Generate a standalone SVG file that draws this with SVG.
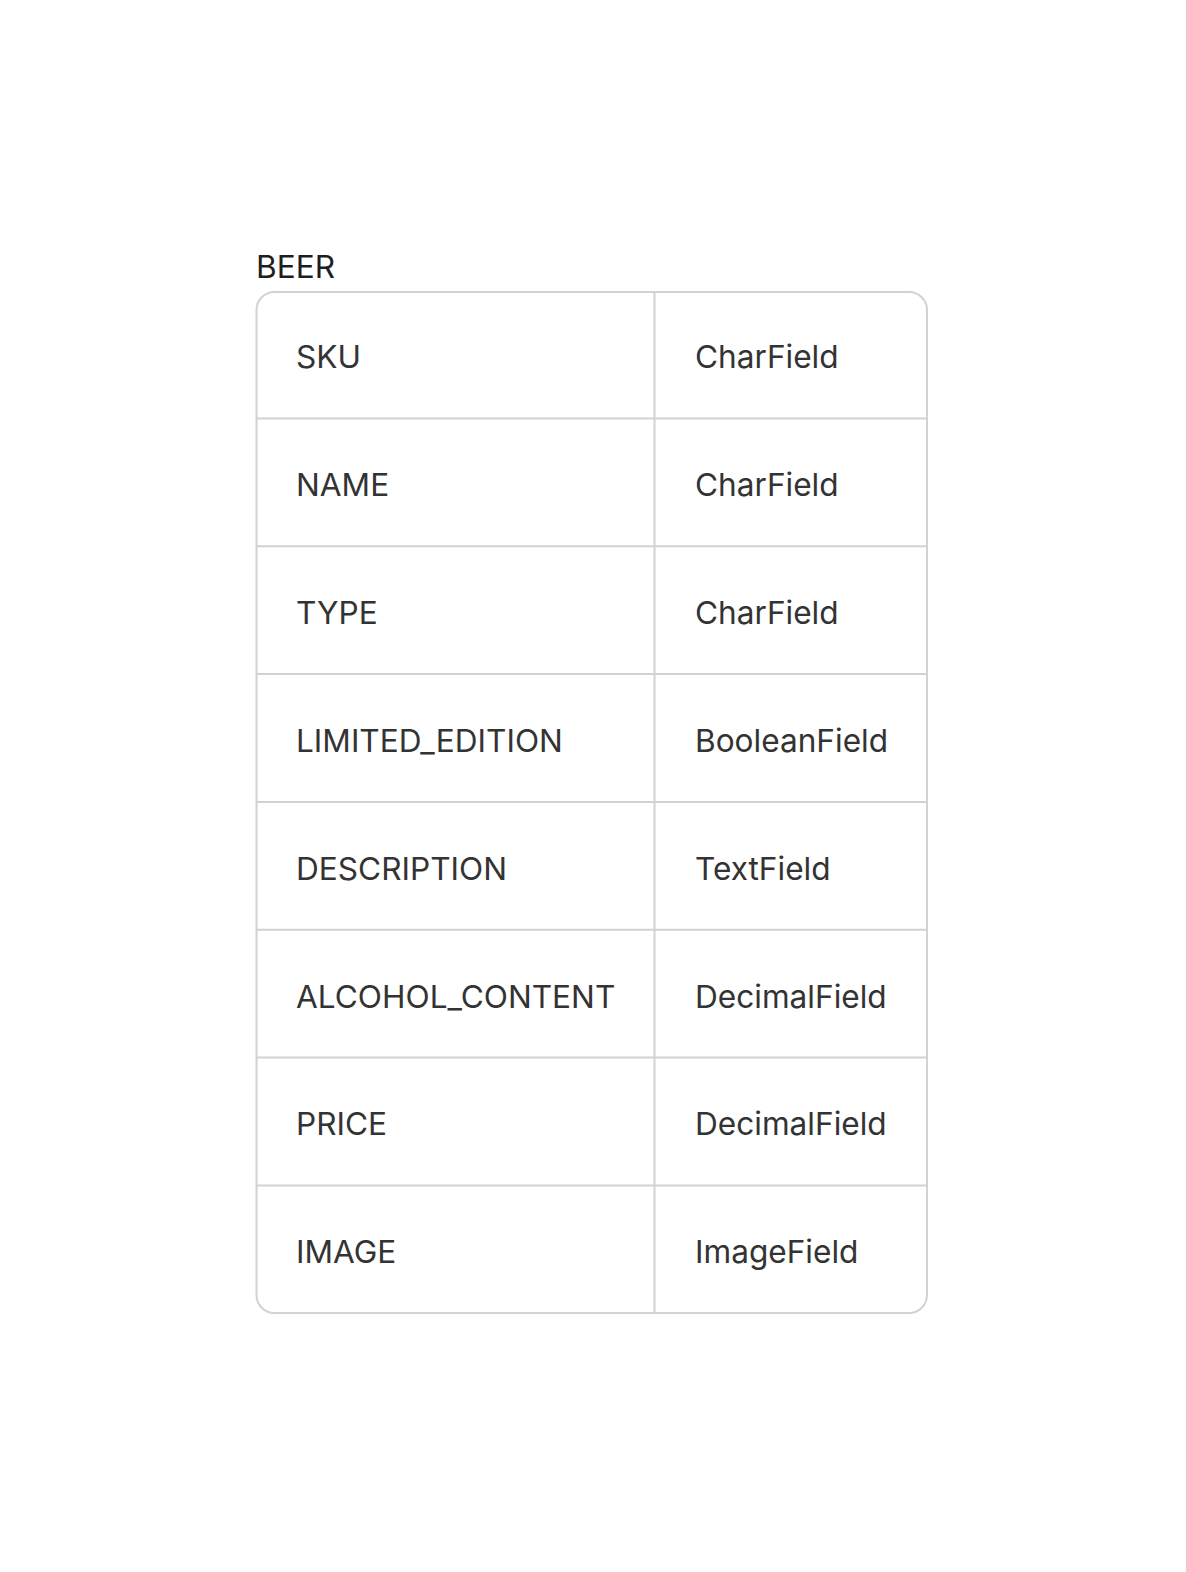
<svg xmlns="http://www.w3.org/2000/svg" width="1186" height="1572" viewBox="0 0 1186 1572">
<style>
.t{font-family:Inter,"Liberation Sans",sans-serif;font-size:31.6px;fill:#333333}
.title{font-family:Inter,"Liberation Sans",sans-serif;font-size:31.6px;fill:#1e1e1e}
.ln{stroke:#d2d2d2;stroke-width:2;fill:none}
</style>
<rect width="1186" height="1572" fill="#ffffff"/>
<text id="title" class="title" x="256" y="278">BEER</text>
<g id="table">
<rect class="ln" x="256.5" y="292" width="670.5" height="1021" rx="18" ry="18" fill="#ffffff"/>
<line class="ln" x1="654.5" y1="292" x2="654.5" y2="1313"/>
<line class="ln" x1="256.5" y1="418.5" x2="927" y2="418.5"/>
<line class="ln" x1="256.5" y1="546.3" x2="927" y2="546.3"/>
<line class="ln" x1="256.5" y1="674.1" x2="927" y2="674.1"/>
<line class="ln" x1="256.5" y1="801.9" x2="927" y2="801.9"/>
<line class="ln" x1="256.5" y1="929.7" x2="927" y2="929.7"/>
<line class="ln" x1="256.5" y1="1057.5" x2="927" y2="1057.5"/>
<line class="ln" x1="256.5" y1="1185.5" x2="927" y2="1185.5"/>
</g>
<g id="row-sku"><text class="t" x="296" y="368">SKU</text><text class="t" x="695" y="368">CharField</text></g>
<g id="row-name"><text class="t" x="296" y="496">NAME</text><text class="t" x="695" y="496">CharField</text></g>
<g id="row-type"><text class="t" x="296" y="623.5">TYPE</text><text class="t" x="695" y="623.5">CharField</text></g>
<g id="row-limited"><text class="t" x="296" y="751.5">LIMITED_EDITION</text><text class="t" x="695" y="751.5">BooleanField</text></g>
<g id="row-description"><text class="t" x="296" y="879.5">DESCRIPTION</text><text class="t" x="695" y="879.5">TextField</text></g>
<g id="row-alcohol"><text class="t" x="296" y="1007.5">ALCOHOL_CONTENT</text><text class="t" x="695" y="1007.5">DecimalField</text></g>
<g id="row-price"><text class="t" x="296" y="1135">PRICE</text><text class="t" x="695" y="1135">DecimalField</text></g>
<g id="row-image"><text class="t" x="296" y="1263">IMAGE</text><text class="t" x="695" y="1263">ImageField</text></g>
</svg>
